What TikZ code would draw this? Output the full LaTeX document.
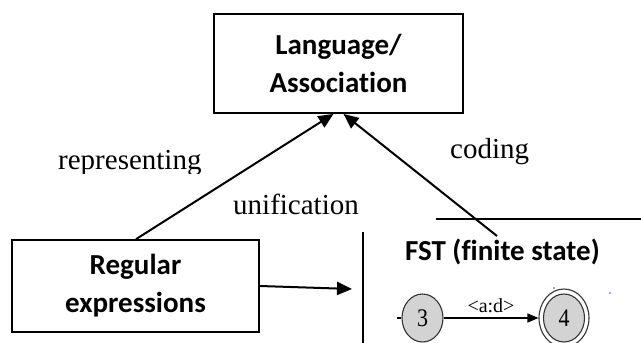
\documentclass[tikz,border=0pt]{standalone}
\usepackage{fontspec}
\setmainfont{Liberation Serif}
\newfontfamily\boxfont[Ligatures=NoCommon]{Carlito}
\usetikzlibrary{arrows.meta,shapes.geometric}
\definecolor{stategray}{HTML}{D3D3D3}
\definecolor{dotblue}{HTML}{3344FF}
\tikzset{
  mainbox/.style={draw, line width=1.8pt, align=center, inner sep=0pt,
    font=\boxfont\bfseries\fontsize{29}{38}\selectfont},
  mainarrow/.style={line width=2pt, -{Triangle[length=15pt,width=13pt]}},
  lbl/.style={font=\fontsize{29}{34}\selectfont, inner sep=0pt, anchor=base west},
  fststate/.style={ellipse, draw=black!80, line width=1.1pt, fill=stategray, inner sep=0pt,
    minimum width=41pt, minimum height=48pt, font=\fontsize{22}{24}\selectfont},
  fstarrow/.style={line width=1.1pt, -{Triangle[length=11pt,width=9pt]}},
}
\begin{document}
\begin{tikzpicture}[x=1pt,y=-1pt]
\useasboundingbox (0,0) rectangle (641,343);
% boxes
\node[mainbox, minimum width=249pt, minimum height=99pt] (top) at (338.5,63.5) {Language/\\Association};
\node[mainbox, minimum width=247pt, minimum height=92pt] (reg) at (135.5,286) {Regular\\expressions};
% labels
\begin{scope}
\clip (0,0) rectangle (641,173);
\node[lbl] (rep) at (58,169) {representing};
\end{scope}
\node[lbl] (uni) at (233,214) {unification};
\node[lbl] (cod) at (450,158) {coding};
% FST panel
\coordinate (hl1) at (436,219);
\coordinate (hl2) at (641,219);
\draw[line width=1.5pt] (hl1) -- (hl2);
\coordinate (vl1) at (363,232);
\coordinate (vl2) at (363,343);
\draw[line width=1.6pt] (vl1) -- (vl2);
\node[font=\boxfont\bfseries\fontsize{29}{34}\selectfont, inner sep=0pt, anchor=base west] (fst) at (405,260) {FST (finite state)};
% arrows
\coordinate (cstart) at (497,236);
\coordinate (rend) at (352,289);
\draw[mainarrow] ([xshift=125pt]reg.north west) -- ([xshift=-5pt]top.south);
\draw[mainarrow] (cstart) -- ([xshift=5pt]top.south);
\draw[mainarrow] (reg.east) -- (rend);
% states
\node[fststate] (s3) at (422.5,318) {\scalebox{1}[1.15]{3}};
\node[ellipse, draw=black!80, line width=1.1pt, minimum width=50pt, minimum height=58pt, inner sep=0pt] (s4o) at (564,318) {};
\node[fststate] (s4) at (564,318) {\scalebox{1}[1.15]{4}};
\coordinate (inc) at (397,318);
\draw[line width=1.1pt] (inc) -- (s3.west);
\draw[fstarrow] (s3.east) -- (s4o.west) node[midway, above=5pt, font=\fontsize{20}{22}\selectfont, inner sep=0pt] (lab) {<a:d>};
% stray dots
\fill[dotblue] (554,288) circle (0.8);
\fill[dotblue] (610,293) circle (0.8);
\end{tikzpicture}
\end{document}
